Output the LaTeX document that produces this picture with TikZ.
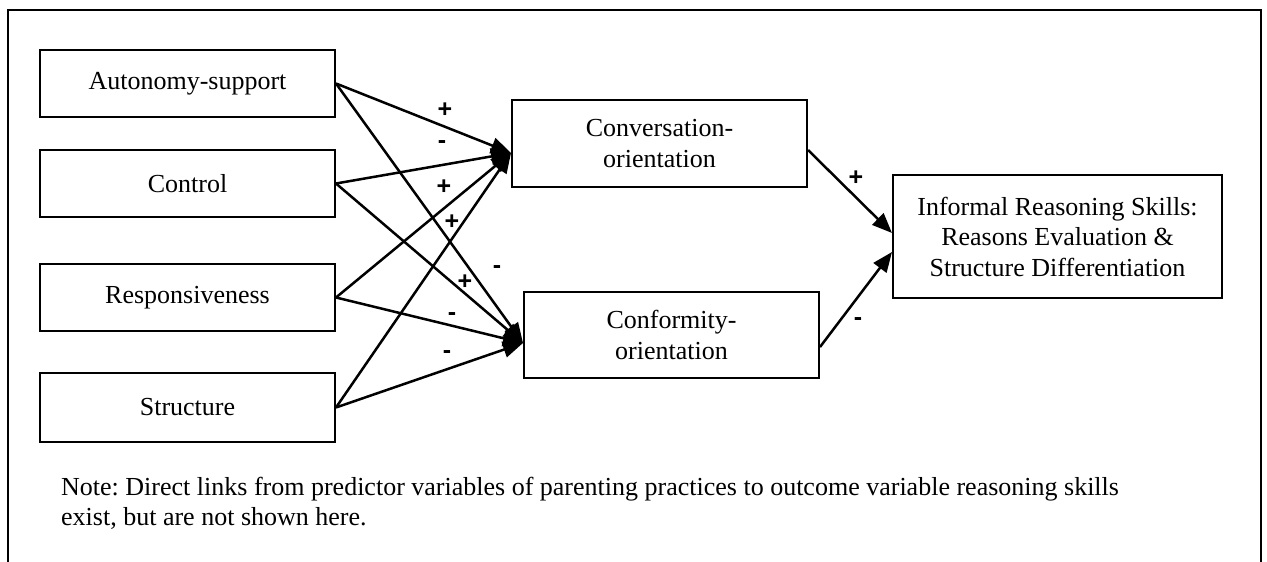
\documentclass[tikz,border=0pt]{standalone}
\usepackage{fontspec}
\setmainfont{Liberation Serif}
\newfontfamily\signfont{Liberation Sans}
\usetikzlibrary{arrows.meta,calc}
\frenchspacing
\begin{document}
\begin{tikzpicture}[x=1pt,y=-1pt,
  box/.style={draw,line width=2pt,rectangle,inner sep=0pt,align=center,
    font=\fontsize{26}{30.5}\selectfont},
  predictor/.style={box,minimum width=295pt,minimum height=67pt},
  mediator/.style={box,minimum width=295pt,minimum height=87pt},
  link/.style={line width=2.5pt,-{Triangle[length=20pt,width=16pt]}},
  sign/.style={font=\signfont\bfseries\fontsize{25}{25}\selectfont,inner sep=0pt}]
\useasboundingbox (0,0) rectangle (1267,562);

% open frame around the model
\draw[line width=2pt] (8,562) -- (8,10) -- (1261,10) -- (1261,562);

% parenting practices
\node[predictor] (aut) at (187.5,83.5) {Autonomy-support};
\node[predictor] (ctl) at (187.5,183.5) {Control};
\node[predictor] (rsp) at (187.5,297.5) {Responsiveness};
\node[predictor,minimum height=69pt] (str) at (187.5,407.5) {Structure};

% family communication patterns
\node[mediator] (conv) at (659.5,143.5) {Conversation-\\orientation};
\node[mediator,minimum height=86pt] (conf) at (671.5,335) {Conformity-\\orientation};

% outcome
\node[box,minimum width=329pt,minimum height=123pt] (out) at (1057.5,236.5)
  {Informal Reasoning Skills:\\Reasons Evaluation \&\\Structure Differentiation};

% arrow entry points
\coordinate (convin) at ($(conv.west)+(0,9.5)$);
\coordinate (confin) at ($(conf.west)+(0,8)$);
\coordinate (convout) at ($(conv.east)+(0,6.5)$);
\coordinate (confout) at ($(conf.east)+(0,12)$);
\coordinate (outa) at ($(out.west)+(0,-3.5)$);
\coordinate (outb) at ($(out.west)+(0,15.5)$);

\foreach \src in {aut,ctl,rsp,str}{
  \draw[link] (\src.east) -- (convin);
  \draw[link] (\src.east) -- (confin);
}
\draw[link] (convout) -- (outa);
\draw[link] (confout) -- (outb);

% signs of the paths
\node[sign] (s1) at (445,110) {+};
\node[sign] (s2) at (442,145) {-};
\node[sign] (s3) at (444,187) {+};
\node[sign] (s4) at (452,222) {+};
\node[sign] (s5) at (497,270) {-};
\node[sign] (s6) at (465,282) {+};
\node[sign] (s7) at (452,317) {-};
\node[sign] (s8) at (447,355) {-};
\node[sign] (s9) at (856,178) {+};
\node[sign] (s10) at (858,322) {-};

% note
\node[anchor=west,align=left,inner sep=0pt,font=\fontsize{26}{30}\selectfont] (note) at (61,503)
  {Note: Direct links from predictor variables of parenting practices to outcome variable reasoning skills\\
   exist, but are not shown here.};
\end{tikzpicture}
\end{document}
